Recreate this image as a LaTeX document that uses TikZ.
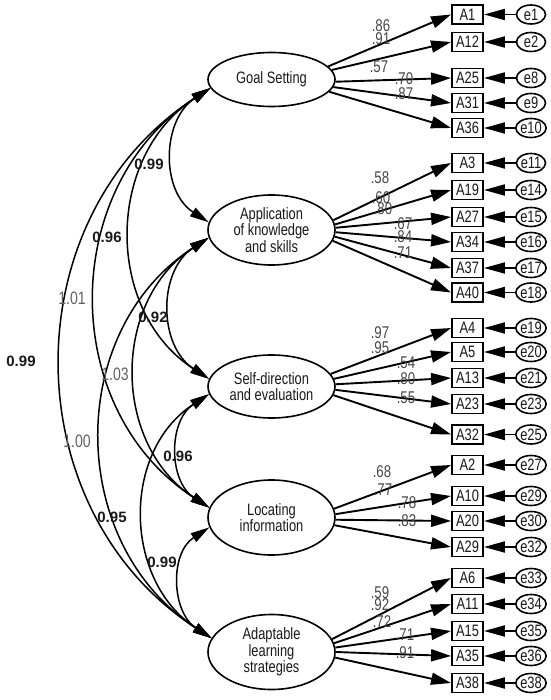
\documentclass[tikz,border=0pt]{standalone}
\usepackage{fontspec}
\setmainfont{Liberation Sans}
\newfontfamily\nf[FakeStretch=0.78]{Liberation Sans}
\usetikzlibrary{shapes.geometric,arrows.meta}
\begin{document}
\begin{tikzpicture}[x=1pt,y=1pt,
  lat/.style={ellipse, draw, line width=1.6pt, minimum width=127pt, inner sep=0pt, align=center,
    font=\nf\fontsize{16.5}{16.5}\selectfont, text=black!90},
  obs/.style={rectangle, draw, line width=1.9pt, minimum width=31pt, minimum height=19pt, inner sep=0pt,
    font=\nf\fontsize{16.5}{16}\selectfont, text=black!90},
  err/.style={ellipse, draw, line width=1.6pt, minimum width=29pt, minimum height=19pt, inner sep=0pt,
    font=\nf\fontsize{16.5}{16}\selectfont, text=black!90},
  load/.style={-{Triangle[length=20pt,width=12pt]}, line width=1.9pt},
  errarr/.style={-{Triangle[length=21pt,width=11pt]}, line width=1.9pt},
  cov/.style={{Triangle[length=19pt,width=10pt]}-{Triangle[length=19pt,width=10pt]}, line width=1.5pt},
  lv/.style={inner sep=0pt, font=\nf\fontsize{17}{17}\selectfont, text=black!72},
  cb/.style={inner sep=0pt, font=\bfseries\fontsize{15}{15}\selectfont, text=black!90},
  cn/.style={inner sep=0pt, font=\nf\fontsize{18}{18}\selectfont, text=black!62}
]
\useasboundingbox (0,0) rectangle (550,-700);

% latent variables
\node[lat, minimum height=54pt] (G) at (271.5,-79.5) {Goal Setting};
\node[lat, minimum height=70pt] (A) at (271.5,-230) {Application\\of knowledge\\and skills};
\node[lat, minimum height=63pt] (S) at (271.5,-386.5) {Self-direction\\and evaluation};
\node[lat, minimum height=75pt] (L) at (271.5,-517.5) {Locating\\information};
\node[lat, minimum height=75pt] (D) at (271.5,-652) {Adaptable\\learning\\strategies};

% observed variables and errors
\foreach \n/\y/\e in {A1/14.5/e1, A12/42/e2, A25/78/e8, A31/103/e9, A36/128/e10,
  A3/163/e11, A19/190/e14, A27/217/e15, A34/242/e16, A37/268/e17, A40/292.5/e18,
  A4/328/e19, A5/352/e20, A13/378/e21, A23/404/e23, A32/434.5/e25,
  A2/465/e27, A10/496/e29, A20/521/e30, A29/547/e32,
  A6/578/e33, A11/604/e34, A15/631/e35, A35/656/e36, A38/683/e38}{
  \node[obs] (\n) at (467.5,-\y) {\n};
  \node[err] (\e) at (531,-\y) {\e};
  \draw[errarr] (\e) -- (\n);
}

% loadings
\draw[load] (G.13) -- (A1.west);
\draw[load] (G.9) -- (A12.west);
\draw[load] (G.-2) -- (A25.west);
\draw[load] (G.-7) -- (A31.west);
\draw[load] (G.-12) -- (A36.west);

\draw[load] (A.9) -- (A3.west);
\draw[load] (A.5.5) -- (A19.west);
\draw[load] (A.2) -- (A27.west);
\draw[load] (A.-2) -- (A34.west);
\draw[load] (A.-6) -- (A37.west);
\draw[load] (A.-10) -- (A40.west);

\draw[load] (S.12) -- (A4.west);
\draw[load] (S.7) -- (A5.west);
\draw[load] (S.2) -- (A13.west);
\draw[load] (S.-3) -- (A23.west);
\draw[load] (S.-8) -- (A32.west);

\draw[load] (L.8) -- (A2.west);
\draw[load] (L.3) -- (A10.west);
\draw[load] (L.-2) -- (A20.west);
\draw[load] (L.-7) -- (A29.west);

\draw[load] (D.12) -- (A6.west);
\draw[load] (D.8) -- (A11.west);
\draw[load] (D.4) -- (A15.west);
\draw[load] (D.0) -- (A35.west);
\draw[load] (D.-5) -- (A38.west);

% loading labels
\node[lv] at (381,-26) {.86};
\node[lv] at (381,-39) {.91};
\node[lv] at (379,-67) {.57};
\node[lv] at (404,-79) {.70};
\node[lv] at (404,-94) {.87};

\node[lv] at (380,-178) {.58};
\node[lv] at (381,-198) {.60};
\node[lv] at (383,-209) {.80};
\node[lv] at (403,-224) {.67};
\node[lv] at (403,-237) {.84};
\node[lv] at (403,-253) {.71};

\node[lv] at (380,-333) {.97};
\node[lv] at (380,-348) {.95};
\node[lv] at (406,-363) {.54};
\node[lv] at (406,-379) {.80};
\node[lv] at (406,-398) {.55};

\node[lv] at (382,-472) {.68};
\node[lv] at (383,-490) {.77};
\node[lv] at (407,-503) {.78};
\node[lv] at (407,-521) {.83};

\node[lv] at (380,-593) {.59};
\node[lv] at (380,-605) {.92};
\node[lv] at (382,-622) {.72};
\node[lv] at (405,-635) {.71};
\node[lv] at (405,-653) {.91};

% covariances
\draw[cov] (G.188) to[out=213,in=147,looseness=1.1] (A.173);
\draw[cov] (G.188) to[out=213,in=147,looseness=1.1] (S.173);
\draw[cov] (G.188) to[out=213,in=147,looseness=1.1] (L.171);
\draw[cov] (G.188) to[out=213,in=147,looseness=1.1] (D.167);
\draw[cov] (A.187) to[out=213,in=147,looseness=1.1] (S.173);
\draw[cov] (A.187) to[out=213,in=147,looseness=1.1] (L.171);
\draw[cov] (A.187) to[out=213,in=147,looseness=1.1] (D.167);
\draw[cov] (S.187) to[out=213,in=147,looseness=1.1] (L.171);
\draw[cov] (S.187) to[out=213,in=147,looseness=1.1] (D.167);
\draw[cov] (L.189) to[out=213,in=147,looseness=1.1] (D.167);

% covariance labels
\node[cb] at (149,-164) {0.99};
\node[cb] at (107,-237) {0.96};
\node[cn] at (72,-298) {1.01};
\node[cb] at (21,-361) {0.99};
\node[cb] at (153,-317) {0.92};
\node[cn] at (115,-374) {1.03};
\node[cn] at (77,-441) {1.00};
\node[cb] at (112,-517) {0.95};
\node[cb] at (178,-456) {0.96};
\node[cb] at (162,-562) {0.99};
\end{tikzpicture}
\end{document}
